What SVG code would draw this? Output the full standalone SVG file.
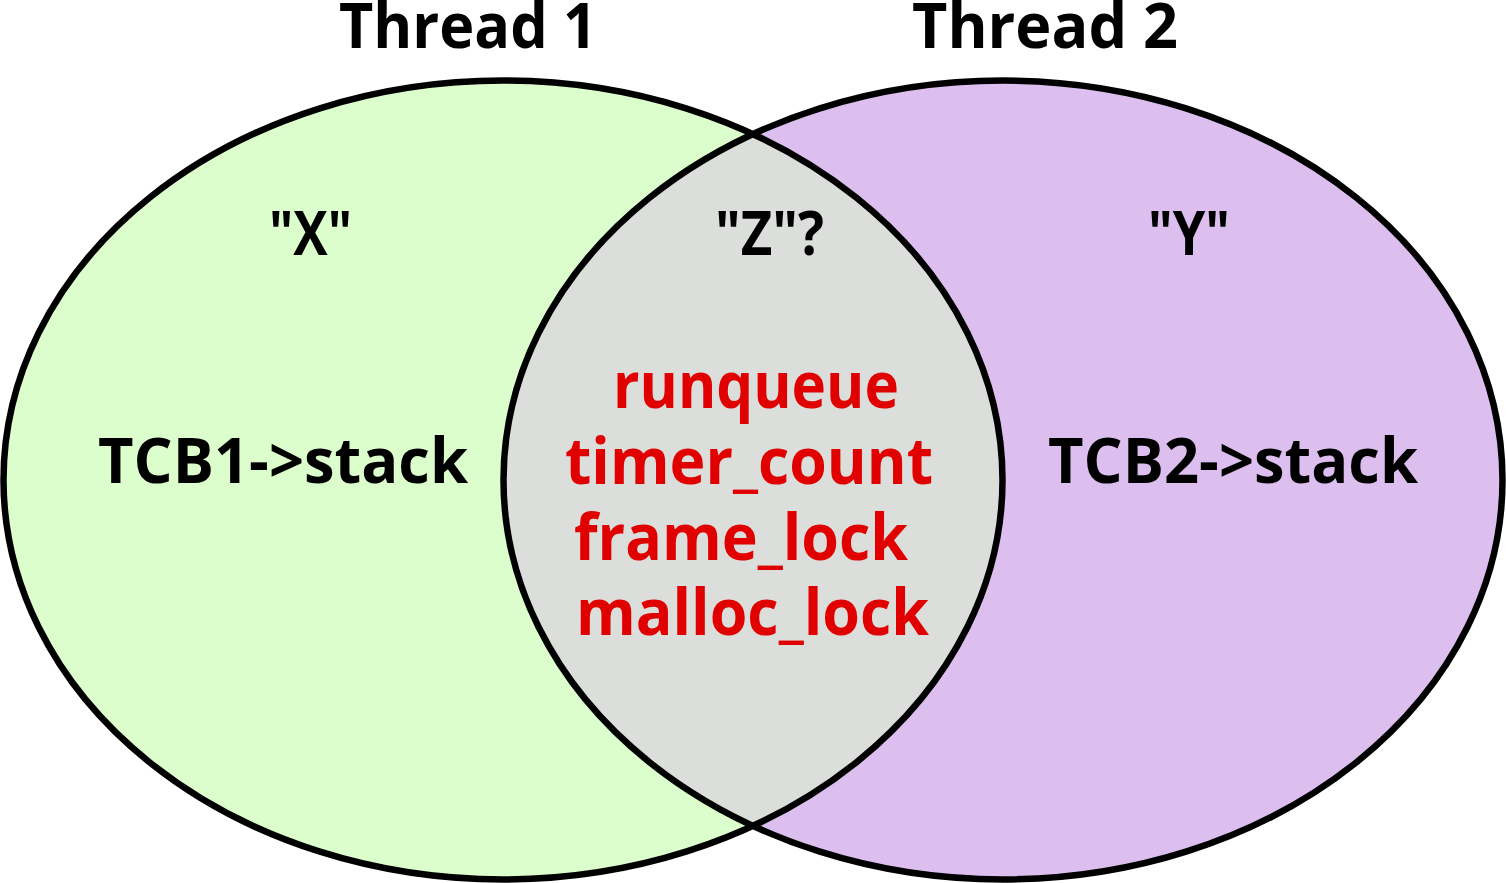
<svg xmlns="http://www.w3.org/2000/svg" width="1506" height="883" viewBox="0 0 1506 883">
  <style>
    text { font-family: "Open Sans", "DejaVu Sans", sans-serif; font-weight: 700; }
    .title { font-size: 62px; fill: #000; }
    .lbl { font-size: 62px; fill: #000; }
    .q { font-size: 60px; fill: #000; }
    .red { font-size: 64px; fill: #e00000; }
    .ring { fill: none; stroke: #000; stroke-width: 6.5; }
  </style>
  <defs>
    <clipPath id="clipRight">
      <ellipse cx="1003" cy="480" rx="499.5" ry="399.5"/>
    </clipPath>
  </defs>
  <rect x="0" y="0" width="1506" height="883" fill="#fff"/>
  <g id="thread1">
    <ellipse cx="503" cy="480" rx="499.5" ry="399.5" fill="#dcfecc"/>
  </g>
  <g id="thread2">
    <ellipse cx="1003" cy="480" rx="499.5" ry="399.5" fill="#dcbfee"/>
  </g>
  <g id="shared">
    <ellipse cx="503" cy="480" rx="499.5" ry="399.5" fill="#dcdedb" clip-path="url(#clipRight)"/>
  </g>
  <g id="outlines">
    <ellipse class="ring" cx="503" cy="480" rx="499.5" ry="399.5"/>
    <ellipse class="ring" cx="1003" cy="480" rx="499.5" ry="399.5"/>
  </g>
  <g id="thread1-labels">
    <text class="title" x="339" y="48" textLength="258" lengthAdjust="spacingAndGlyphs">Thread 1</text>
    <text class="q" x="269" y="255" textLength="83" lengthAdjust="spacingAndGlyphs">"X"</text>
    <text class="lbl" x="98" y="483" textLength="370" lengthAdjust="spacingAndGlyphs">TCB1-&gt;stack</text>
  </g>
  <g id="thread2-labels">
    <text class="title" x="912" y="48" textLength="266" lengthAdjust="spacingAndGlyphs">Thread 2</text>
    <text class="q" x="1148" y="255" textLength="82" lengthAdjust="spacingAndGlyphs">"Y"</text>
    <text class="lbl" x="1048" y="483" textLength="370" lengthAdjust="spacingAndGlyphs">TCB2-&gt;stack</text>
  </g>
  <g id="shared-labels">
    <text class="q" x="715" y="255" textLength="109" lengthAdjust="spacingAndGlyphs">"Z"?</text>
    <text class="red" x="613" y="408" textLength="286" lengthAdjust="spacingAndGlyphs">runqueue</text>
    <text class="red" x="565" y="484" textLength="368" lengthAdjust="spacingAndGlyphs">timer_count</text>
    <text class="red" x="574" y="560" textLength="334" lengthAdjust="spacingAndGlyphs">frame_lock</text>
    <text class="red" x="576" y="635" textLength="353" lengthAdjust="spacingAndGlyphs">malloc_lock</text>
  </g>
  <g id="connectors"/>
</svg>
